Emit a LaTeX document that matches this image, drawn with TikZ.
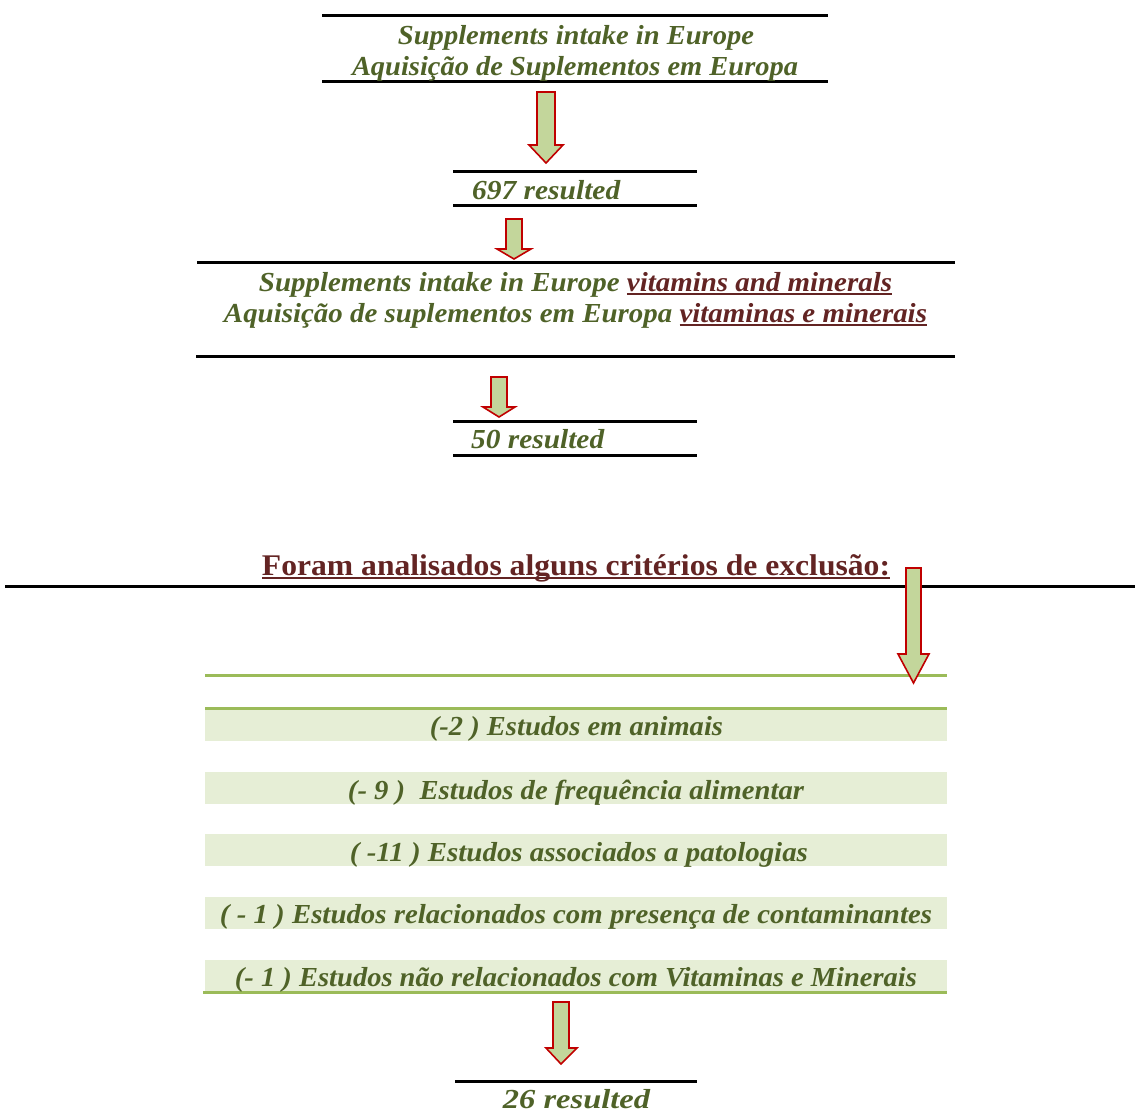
\documentclass[tikz,border=0pt]{standalone}
\usepackage{fontspec}
\setmainfont{Liberation Serif}
\usepackage{graphicx}
\definecolor{txtgreen}{HTML}{4F6228}
\definecolor{txtred}{HTML}{632423}
\definecolor{arrfill}{HTML}{C3D69B}
\definecolor{arrline}{HTML}{C00000}
\definecolor{barfill}{HTML}{E6EED6}
\definecolor{barline}{HTML}{9BBB59}
\newcommand\fw[2]{\resizebox{#1pt}{\height}{#2}}
\newcommand\redul[1]{{\color{txtred}\setbox0\hbox{#1}\rlap{\rule[-3.5pt]{\wd0}{1.8pt}}\box0}}
\newcommand\barrow[7]{\draw[blockarrow] (#1,#3) -- (#2,#3) -- (#2,#4) -- (#6,#4) -- ({(#1+#2)/2},#7) -- (#5,#4) -- (#1,#4) -- cycle;}
\begin{document}
\begin{tikzpicture}[x=1pt,y=-1pt,
  rulel/.style={line width=3pt, black},
  gline/.style={line width=3pt, barline},
  bar/.style={fill=barfill, draw=none},
  txt/.style={anchor=base, inner sep=0pt, text=txtgreen, font=\fontsize{27.5}{30}\selectfont\bfseries\itshape},
  title/.style={anchor=base, inner sep=0pt, text=txtred, font=\fontsize{30}{32}\selectfont\bfseries},
  blockarrow/.style={fill=arrfill, draw=arrline, line width=1.6pt, line join=miter}]
\useasboundingbox (0,0) rectangle (1135,1113);
% black rules
\draw[rulel] (322,16) -- (828,16);
\draw[rulel] (322,82) -- (828,82);
\draw[rulel] (453,171) -- (697,171);
\draw[rulel] (453,205) -- (697,205);
\draw[rulel] (197,262) -- (955,262);
\draw[rulel] (196,356) -- (955,356);
\draw[rulel] (453,421) -- (697,421);
\draw[rulel] (453,455) -- (697,455);
\draw[rulel] (5,586) -- (1135,586);
\draw[rulel] (455,1081) -- (697,1081);
% bars
\fill[bar] (205,710) rectangle (947,741);
\fill[bar] (205,772) rectangle (947,804);
\fill[bar] (205,834) rectangle (947,866);
\fill[bar] (205,897) rectangle (947,929);
\fill[bar] (205,960) rectangle (947,991);
\draw[gline] (205,675) -- (947,675);
\draw[gline] (205,708.5) -- (947,708.5);
\draw[gline] (203,992.5) -- (947,992.5);
% texts
\node[txt] (t1a) at (576,45) {\fw{356}{Supplements intake in Europe}};
\node[txt] (t1b) at (575,76) {\fw{446}{Aquisição de Suplementos em Europa}};
\node[txt,anchor=base west] (r697) at (472,199) {\fw{148}{697 resulted}};
\node[txt] (t3a) at (575.5,291) {\fw{633}{Supplements intake in Europe \redul{vitamins and minerals}}};
\node[txt] (t3b) at (575.5,322) {\fw{703}{Aquisição de suplementos em Europa \redul{vitaminas e minerais}}};
\node[txt,anchor=base west] (r50) at (471,448) {\fw{133}{50 resulted}};
\node[title] (crit) at (576,575) {\fw{628}{\redul{Foram analisados alguns critérios de exclusão:}}};
\node[txt] (b1) at (576.5,735) {\fw{293}{(-2 ) Estudos em animais}};
\node[txt] (b2) at (576,799) {\fw{456}{(- 9 )\ \ Estudos de frequência alimentar}};
\node[txt] (b3) at (579,861) {\fw{458}{( -11 ) Estudos associados a patologias}};
\node[txt] (b4) at (576,923) {\fw{712}{( - 1 ) Estudos relacionados com presença de contaminantes}};
\node[txt] (b5) at (576,986) {\fw{682}{(- 1 ) Estudos não relacionados com Vitaminas e Minerais}};
\node[txt] (r26) at (576.5,1108) {\fw{147}{26 resulted}};
% block arrows
\barrow{537}{555}{92}{145}{529}{563}{163}
\barrow{506}{522}{219}{249}{497}{531}{259}
\barrow{491}{507}{377}{407}{483}{515}{417}
\barrow{906}{921}{568}{654}{898}{929}{683}
\barrow{553}{569}{1002}{1048}{546}{577}{1064}
\end{tikzpicture}
\end{document}
